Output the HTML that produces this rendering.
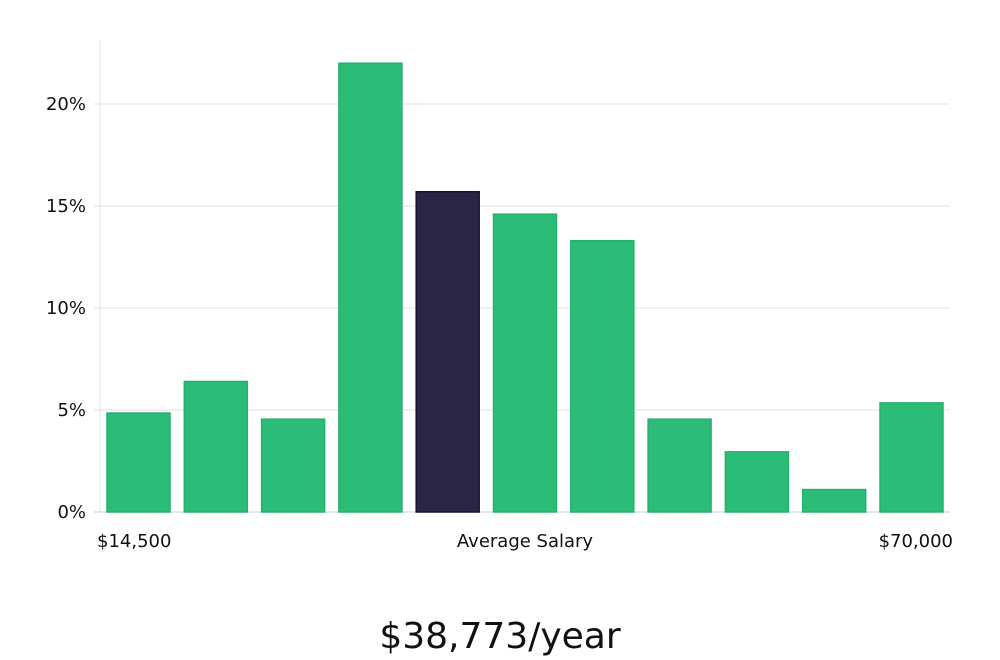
<!DOCTYPE html>
<html><head><meta charset="utf-8"><style>
html,body{margin:0;padding:0;background:#fff;width:1000px;height:660px;overflow:hidden}
svg text{font-family:"DejaVu Sans","Liberation Sans",sans-serif;fill:#111}
</style></head><body>
<svg id="chart" width="1000" height="660" xmlns="http://www.w3.org/2000/svg">
<g id="grid"></g><g id="bars"></g><g id="labels"></g>
<text x="500" y="648" text-anchor="middle" font-size="36" font-family="Liberation Sans">$38,773/year</text>
</svg>
<script>
const bins = ["b1","b2","b3","b4","b5","b6","b7","b8","b9","b10","b11"];
const values = [4.85,6.4,4.55,22.0,15.7,14.6,13.3,4.55,2.95,1.1,5.35];
const highlightIndex = [4];
const yTicks = [0,5,10,15,20];
const xLabels = ["$14,500","Average Salary","$70,000"];
const NS="http://www.w3.org/2000/svg";
const x0=100,x1=950,yZero=512,pxPerPct=20.4;
const y=v=>yZero-v*pxPerPct;
const step=(x1-x0)/bins.length*0.9998+0.0;
const bx=i=>107+i*77.3;
function el(t,a,p){const e=document.createElementNS(NS,t);for(const k in a)e.setAttribute(k,a[k]);p.appendChild(e);return e;}
const grid=document.getElementById('grid'),bars=document.getElementById('bars'),labels=document.getElementById('labels');
const ax=el('line',{x1:x0,x2:x0,y1:40,y2:yZero,stroke:'#e2e2e2'},grid);


yTicks.forEach(t=>{
  const l=el('line',{x1:x0-6,x2:x1,y1:y(t),y2:y(t),stroke:t===0?'#cfcfcf':'#e2e2e2'},grid);
  
  
  const tx=el('text',{x:86,y:y(t)+6,'text-anchor':'end','font-size':18},labels);
  tx.textContent=t+'%';
  
  
});
values.forEach((v,i)=>{
  const hi=highlightIndex.includes(i);
  const r=el('rect',{x:bx(i),y:y(v),width:63,height:yZero-y(v),fill:hi?'#2a2545':'#2bbd77',stroke:hi?'#17142e':'#27b06d','stroke-width':1.5},bars);
  
  
});
const xl=[[97,'start'],[525,'middle'],[953,'end']];
xLabels.forEach((s,i)=>{
  const tx=el('text',{x:xl[i][0],y:547,'text-anchor':xl[i][1],'font-size':18},labels);
  tx.textContent=s;
  
  
});
</script>
</body></html>
